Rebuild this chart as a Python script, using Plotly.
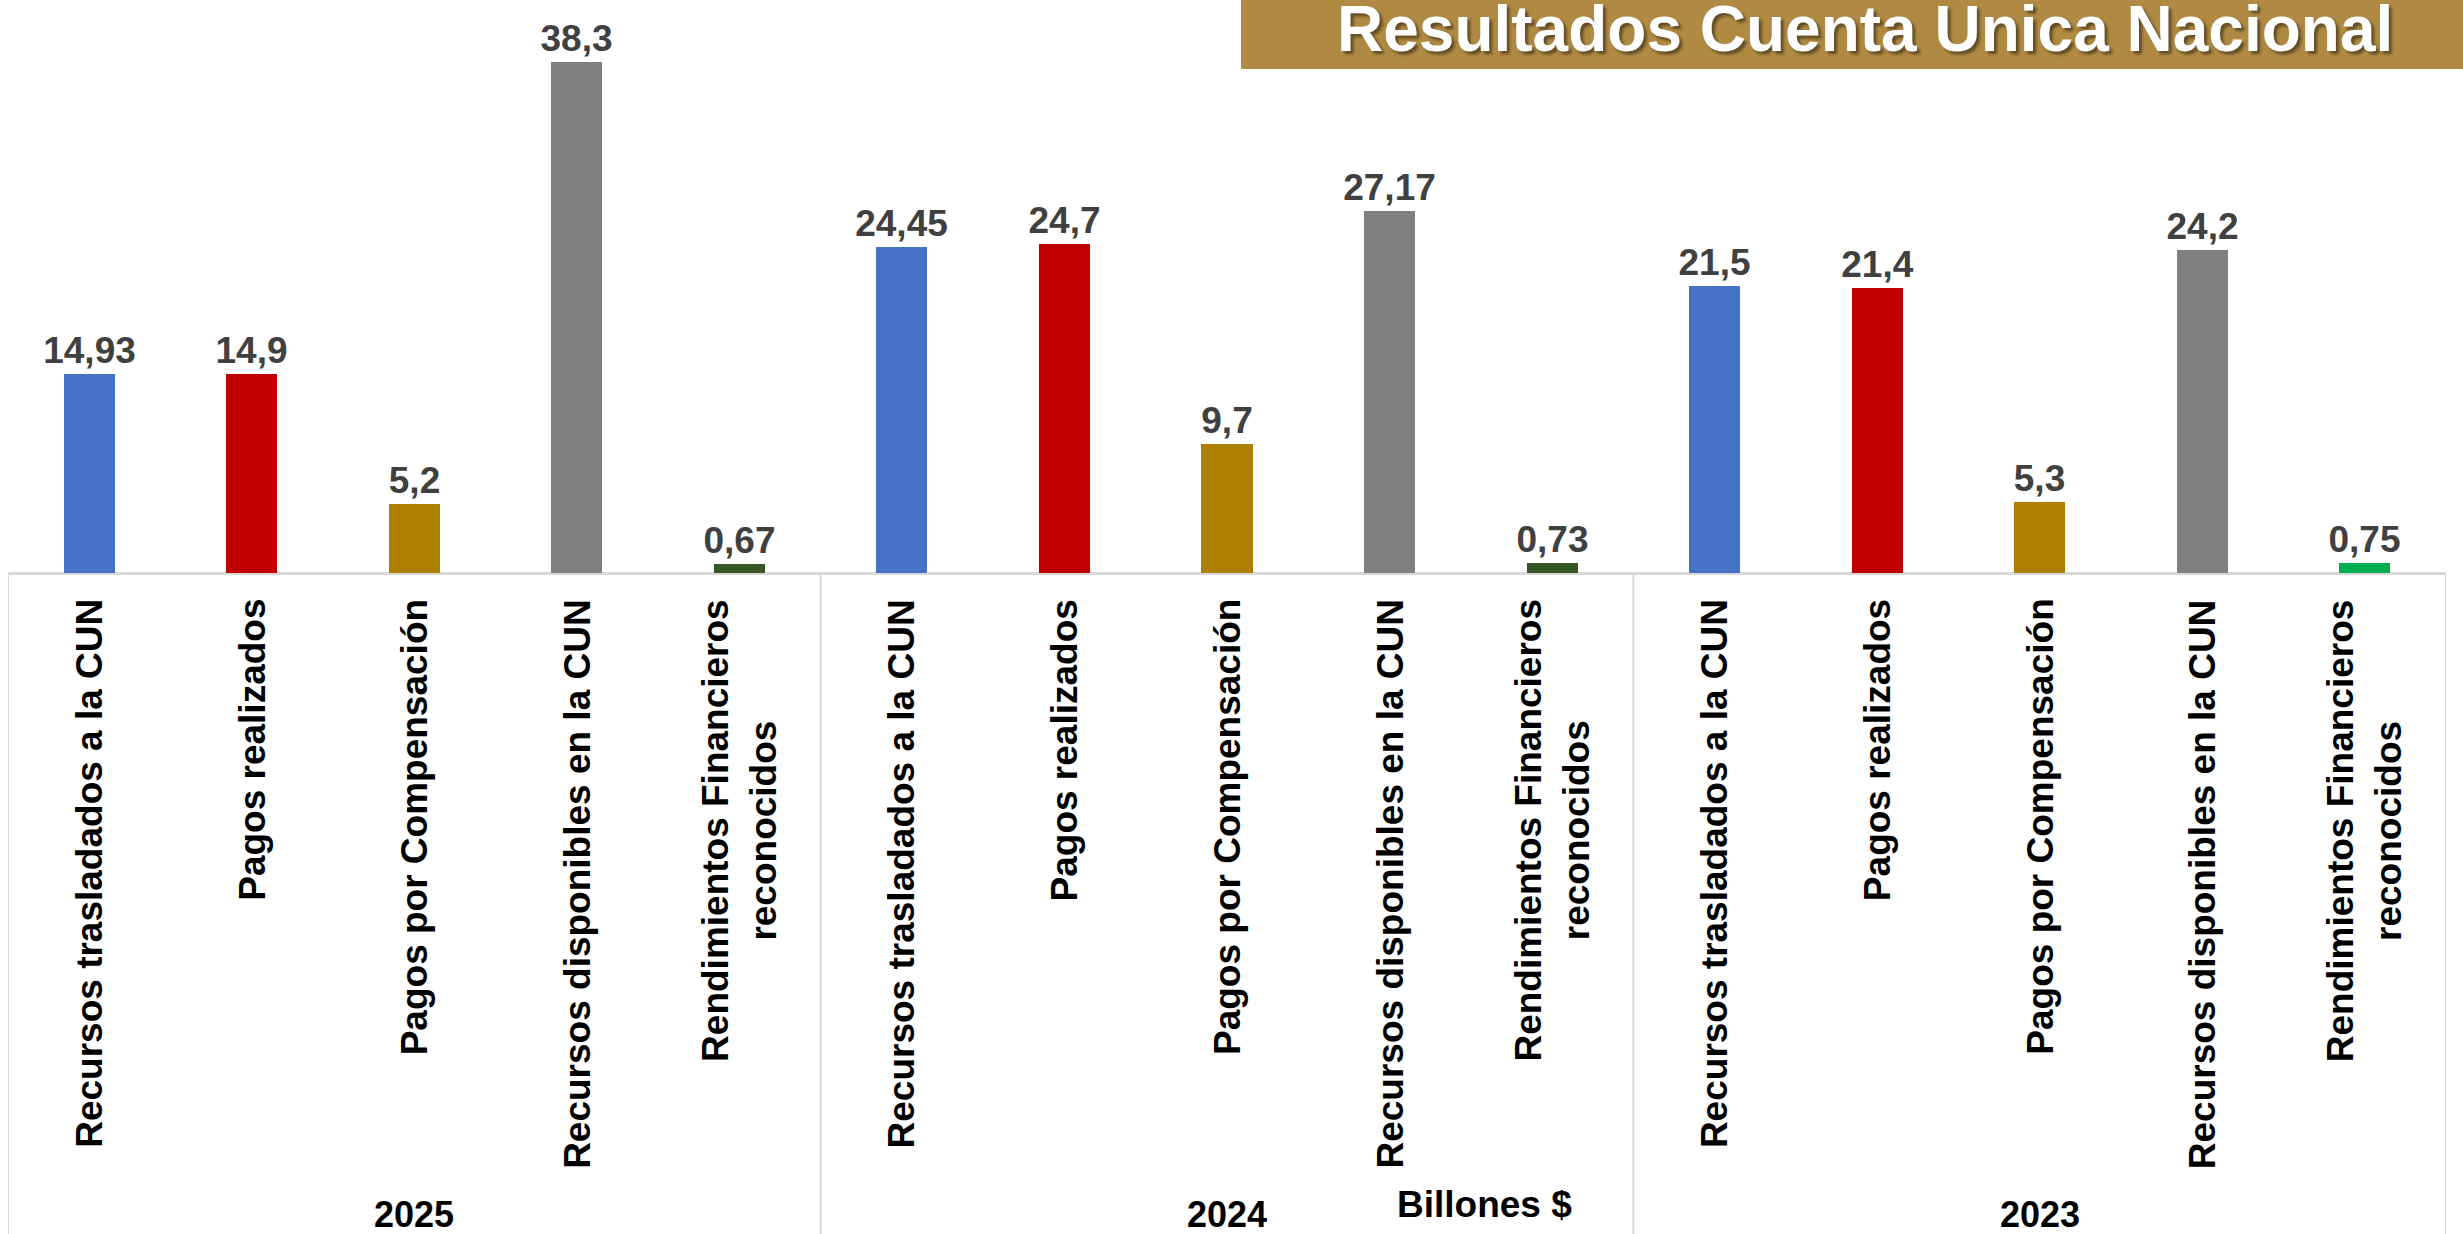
import numpy as np
import plotly.graph_objects as go

years = ["2025", "2024", "2023"]
conceptos = [
    "Recursos trasladados a la CUN",
    "Pagos realizados",
    "Pagos por Compensación",
    "Recursos disponibles en la CUN",
    "Rendimientos Financieros<br>reconocidos",
]
valores_2025 = [14.93, 14.9, 5.2, 38.3, 0.67]
valores_2024 = [24.45, 24.7, 9.7, 27.17, 0.73]
valores_2023 = [21.5, 21.4, 5.3, 24.2, 0.75]

colores_2025 = ["#4472C4", "#C00000", "#AF8000", "#808080", "#375623"]
colores_2024 = ["#4472C4", "#C00000", "#AF8000", "#808080", "#375623"]
colores_2023 = ["#4472C4", "#C00000", "#AF8000", "#808080", "#00B050"]

W, H = 2463, 1234
FONT = "Liberation Sans, Arial, sans-serif"

valores = valores_2025 + valores_2024 + valores_2023
colores = colores_2025 + colores_2024 + colores_2023
x = np.arange(len(valores))
textos = [f"{v:g}".replace(".", ",") for v in valores]

fig = go.Figure()
fig.add_trace(
    go.Bar(
        x=x,
        y=valores,
        width=0.314,
        marker=dict(color=colores, line=dict(width=0)),
        text=textos,
        textposition="outside",
        constraintext="none",
        textfont=dict(family=FONT, size=37, color="#404040", weight=700),
        cliponaxis=False,
        showlegend=False,
    )
)

base_px = 573
y_bottom = 1 - base_px / H

# category labels, rotated
for i, xi in enumerate(x):
    fig.add_annotation(
        x=xi, xref="x", y=1 - 597 / H, yref="paper",
        text=conceptos[i % len(conceptos)],
        textangle=-90, xanchor="center", yanchor="top", align="center",
        showarrow=False,
        font=dict(family=FONT, size=37, color="#000000", weight=700),
    )

# year labels and group dividers
for g, yr in enumerate(years):
    fig.add_annotation(
        x=g * 5 + 2, xref="x", y=1 - 1214 / H, yref="paper",
        text=yr, xanchor="center", yanchor="middle", showarrow=False,
        font=dict(family=FONT, size=36, color="#000000", weight=700),
    )
for b in [-0.5, 4.5, 9.5, 14.5]:
    fig.add_shape(
        type="line", xref="x", yref="paper", x0=b, x1=b, y0=0, y1=y_bottom,
        line=dict(color="#D9D9D9", width=2),
    )

fig.add_annotation(
    x=1484 / W, xref="paper", y=1 - 1204 / H, yref="paper",
    text="Billones $", xanchor="center", yanchor="middle", showarrow=False,
    font=dict(family=FONT, size=37, color="#000000", weight=700),
)

# title banner
fig.add_shape(
    type="rect", xref="paper", yref="paper", x0=1241 / W, x1=1, y0=1 - 69 / H, y1=1,
    fillcolor="#B08A42", line=dict(width=0), layer="below",
)
fig.add_annotation(
    x=1865 / W, xref="paper", y=1 - 29 / H, yref="paper",
    text="Resultados Cuenta Unica Nacional", xanchor="center", yanchor="middle",
    showarrow=False,
    font=dict(family=FONT, size=64, color="#FFFFFF", weight=700,
              shadow="3px 3px 3px rgba(0,0,0,0.45)"),
)

fig.update_layout(
    width=W, height=H,
    margin=dict(l=0, r=0, t=0, b=0),
    paper_bgcolor="white",
    plot_bgcolor="white",
    bargap=0,
    xaxis=dict(
        range=[-0.5, 14.5], domain=[8 / W, 2446 / W],
        showticklabels=False, showgrid=False, zeroline=False,
        showline=False, ticks="",
    ),
    yaxis=dict(
        range=[0, base_px / 13.34], domain=[y_bottom, 1],
        showticklabels=False, showgrid=False, zeroline=True,
        zerolinecolor="#D9D9D9", zerolinewidth=3, showline=False, ticks="",
    ),
)

fig.write_html(
    "out.html",
    config={"displayModeBar": False},
    post_script="document.body.style.margin='0';",
)
